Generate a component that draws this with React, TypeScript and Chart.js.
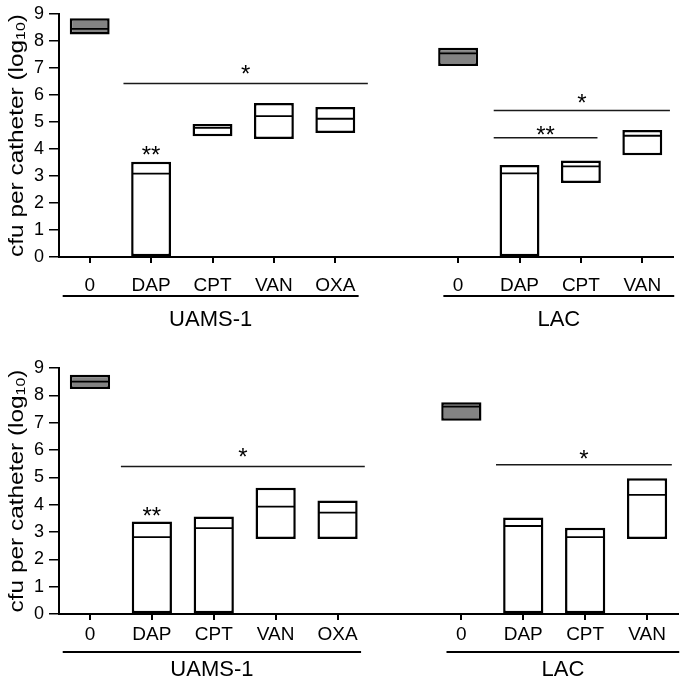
import React, { useEffect, useRef } from 'react';
import { Chart, registerables } from 'chart.js';

Chart.register(...registerables);

// ---------- data ----------
const categories = ['0', 'DAP', 'CPT', 'VAN', 'OXA', '', '0', 'DAP', 'CPT', 'VAN'];
const yTickValues = [0, 1, 2, 3, 4, 5, 6, 7, 8, 9];
const groupLabels = ['UAMS-1', 'LAC'];
const groupStart = [-0.44, 5.76];
const groupEnd = [4.38, 9.52];
const yTitleMain = 'cfu per catheter (log';
const yTitleSub = '10';
const yTitleEnd = ')';

// top panel
const topMin = [8.24, 0, 4.47, 4.37, 4.59, null, 7.07, 0, 2.74, 3.77];
const topMax = [8.84, 3.53, 4.93, 5.7, 5.56, null, 7.75, 3.41, 3.57, 4.7];
const topMedian = [8.45, 3.09, 4.78, 5.22, 5.12, null, 7.54, 3.1, 3.36, 4.49];
const topSigFrom = [0.55, 1, 6.58, 6.58];
const topSigTo = [4.53, null, 9.45, 8.27];
const topSigLineY = [6.43, null, 5.43, 4.42];
const topSigText = ['*', '**', '*', '**'];
const topSigTextY = [6.97, 4.0, 5.9, 4.73];

// bottom panel
const botMin = [8.23, 0, 0, 2.74, 2.74, null, 7.07, 0, 0, 2.74];
const botMax = [8.75, 3.38, 3.57, 4.62, 4.15, null, 7.75, 3.53, 3.16, 4.97];
const botMedian = [8.5, 2.81, 3.14, 3.93, 3.71, null, 7.59, 3.22, 2.81, 4.36];
const botSigFrom = [0.5, 1, 6.56];
const botSigTo = [4.44, null, 9.4];
const botSigLineY = [5.4, null, 5.46];
const botSigText = ['*', '**', '*'];
const botSigTextY = [5.95, 3.8, 5.89];

const FONT = '"Liberation Sans", Arial, Helvetica, sans-serif';
const GREY = '#838383';

type PanelProps = {
  mins: (number | null)[];
  maxs: (number | null)[];
  medians: (number | null)[];
  sigFrom: number[];
  sigTo: (number | null)[];
  sigLineY: (number | null)[];
  sigText: string[];
  sigTextY: number[];
  padTop: number;
  padRight: number;
  xAxisHeight: number;
  tickPad: number;
  underlineOffset: number;
  groupLabelOffset: number;
};

function Panel(p: PanelProps) {
  const ref = useRef<HTMLCanvasElement | null>(null);
  useEffect(() => {
    if (!ref.current) return;
    const data = categories.map((_, i) =>
      p.mins[i] == null || p.maxs[i] == null ? null : [p.mins[i] as number, p.maxs[i] as number]
    );
    const bg = categories.map((c) => (c === '0' ? GREY : '#ffffff'));

    const overlay = {
      id: 'overlay',
      afterDraw(chart: any) {
        const ctx = chart.ctx as CanvasRenderingContext2D;
        const xs = chart.scales.x;
        const ys = chart.scales.y;
        const area = chart.chartArea;
        ctx.save();
        // medians
        const meta = chart.getDatasetMeta(0);
        meta.data.forEach((bar: any, i: number) => {
          const m = p.medians[i];
          if (m == null) return;
          const { x, width } = bar.getProps(['x', 'width'], true);
          const py = ys.getPixelForValue(m);
          ctx.beginPath();
          ctx.strokeStyle = '#000';
          ctx.lineWidth = 1.8;
          ctx.moveTo(x - width / 2 + 1, py);
          ctx.lineTo(x + width / 2 - 1, py);
          ctx.stroke();
        });
        // significance lines and asterisks
        p.sigText.forEach((t, i) => {
          const from = p.sigFrom[i];
          const to = p.sigTo[i];
          let cx = xs.getPixelForValue(from);
          if (to != null && p.sigLineY[i] != null) {
            const x1 = xs.getPixelForValue(from);
            const x2 = xs.getPixelForValue(to);
            const ly = ys.getPixelForValue(p.sigLineY[i] as number);
            ctx.beginPath();
            ctx.strokeStyle = '#1a1a1a';
            ctx.lineWidth = 1.5;
            ctx.moveTo(x1, ly);
            ctx.lineTo(x2, ly);
            ctx.stroke();
            cx = (x1 + x2) / 2;
          }
          const fs = 24;
          ctx.font = `${fs}px ${FONT}`;
          ctx.fillStyle = '#000';
          ctx.textAlign = 'center';
          ctx.textBaseline = 'alphabetic';
          const cy = ys.getPixelForValue(p.sigTextY[i]);
          ctx.fillText(t, cx, cy + 0.57 * fs);
        });
        // group underlines and labels
        groupLabels.forEach((g, i) => {
          const x1 = xs.getPixelForValue(groupStart[i]);
          const x2 = xs.getPixelForValue(groupEnd[i]);
          const uy = area.bottom + p.underlineOffset;
          ctx.beginPath();
          ctx.strokeStyle = '#000';
          ctx.lineWidth = 2;
          ctx.moveTo(x1, uy);
          ctx.lineTo(x2, uy);
          ctx.stroke();
          ctx.font = `22px ${FONT}`;
          ctx.fillStyle = '#000';
          ctx.textAlign = 'center';
          ctx.textBaseline = 'middle';
          ctx.fillText(g, (x1 + x2) / 2, area.bottom + p.groupLabelOffset);
        });
        // y title with subscript
        ctx.translate(17, (area.top + area.bottom) / 2);
        ctx.rotate(-Math.PI / 2);
        ctx.scale(1.22, 1);
        const mainFont = `20px ${FONT}`;
        const subFont = `13px ${FONT}`;
        ctx.font = mainFont;
        const w1 = ctx.measureText(yTitleMain).width;
        const w3 = ctx.measureText(yTitleEnd).width;
        ctx.font = subFont;
        const w2 = ctx.measureText(yTitleSub).width;
        const total = w1 + w2 + w3;
        let sx = -total / 2;
        ctx.textAlign = 'left';
        ctx.textBaseline = 'middle';
        ctx.fillStyle = '#000';
        ctx.font = mainFont;
        ctx.fillText(yTitleMain, sx, 0);
        sx += w1;
        ctx.font = subFont;
        ctx.fillText(yTitleSub, sx, 4);
        sx += w2;
        ctx.font = mainFont;
        ctx.fillText(yTitleEnd, sx, 0);
        ctx.restore();
      },
    };

    const chart = new Chart(ref.current, {
      type: 'bar',
      data: {
        labels: categories,
        datasets: [
          {
            data: data as any,
            backgroundColor: bg,
            borderColor: '#000',
            borderWidth: 2.5,
            borderSkipped: false,
            barPercentage: 0.65,
            categoryPercentage: 1,
          },
        ],
      },
      options: {
        animation: false,
        responsive: false,
        devicePixelRatio: 1,
        layout: { padding: { top: p.padTop, right: p.padRight, left: 0, bottom: 0 } },
        plugins: { legend: { display: false }, tooltip: { enabled: false } },
        scales: {
          x: {
            offset: true,
            afterFit: (s: any) => {
              s.height = p.xAxisHeight;
            },
            grid: {
              display: true,
              drawOnChartArea: false,
              drawTicks: true,
              tickLength: 6,
              offset: false,
              lineWidth: 2,
              color: (c: any) => (categories[c.index] === '' ? 'rgba(0,0,0,0)' : '#000'),
            },
            border: { display: true, color: '#000', width: 2 },
            ticks: {
              color: '#000',
              padding: p.tickPad,
              font: { family: FONT, size: 19 },
              maxRotation: 0,
              autoSkip: false,
            },
          },
          y: {
            min: 0,
            max: 9,
            afterFit: (s: any) => {
              s.width = 59;
            },
            afterBuildTicks: (s: any) => {
              s.ticks = yTickValues.map((v) => ({ value: v }));
            },
            grid: {
              display: true,
              drawOnChartArea: false,
              drawTicks: true,
              tickLength: 10,
              lineWidth: 1.5,
              color: '#000',
            },
            border: { display: true, color: '#000', width: 2 },
            ticks: {
              color: '#000',
              padding: 5,
              font: { family: FONT, size: 18, lineHeight: 1 },
            },
          },
        },
      },
      plugins: [overlay],
    });
    return () => chart.destroy();
  }, []);
  return (
    <div style={{ width: 680, height: 340 }}>
      <canvas ref={ref} width={680} height={340} style={{ display: 'block' }} />
    </div>
  );
}

export default function App() {
  return (
    <div style={{ position: 'absolute', left: 0, top: 0, width: 680, height: 680, background: '#fff' }}>
      <Panel
        mins={topMin}
        maxs={topMax}
        medians={topMedian}
        sigFrom={topSigFrom}
        sigTo={topSigTo}
        sigLineY={topSigLineY}
        sigText={topSigText}
        sigTextY={topSigTextY}
        padTop={9}
        padRight={7}
        xAxisHeight={83}
        tickPad={11}
        underlineOffset={39}
        groupLabelOffset={63}
      />
      <Panel
        mins={botMin}
        maxs={botMax}
        medians={botMedian}
        sigFrom={botSigFrom}
        sigTo={botSigTo}
        sigLineY={botSigLineY}
        sigText={botSigText}
        sigTextY={botSigTextY}
        padTop={28}
        padRight={2}
        xAxisHeight={66}
        tickPad={3}
        underlineOffset={38}
        groupLabelOffset={56}
      />
    </div>
  );
}
